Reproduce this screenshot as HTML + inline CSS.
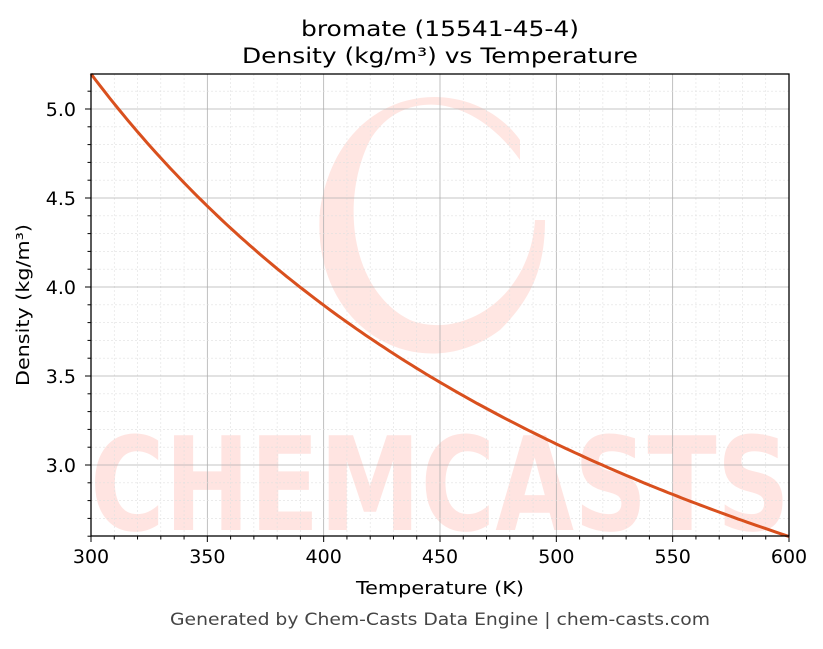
<!DOCTYPE html>
<html><head><meta charset="utf-8"><style>
body{margin:0;background:#fff;width:823px;height:644px;overflow:hidden}
text{font-family:"DejaVu Sans","Liberation Sans",sans-serif}
</style></head><body>
<svg id="s" width="823" height="644" xmlns="http://www.w3.org/2000/svg">
<rect width="823" height="644" fill="#fff"/>
<g id="wm" opacity="0.13" fill="#ff3b1f">
<text x="440" y="530" font-size="130" font-weight="bold" text-anchor="middle" textLength="700" lengthAdjust="spacingAndGlyphs">CHEMCASTS</text>
<path d="M520 140 C470 70 340 80 320 210 C310 330 420 390 500 330 C530 300 545 270 545 220 L535 220 C530 300 460 340 410 320 C350 290 340 200 370 140 C400 90 470 90 520 160 Z"/>
</g>
<g id="grid"></g>
<path id="curve" fill="none" stroke="#d9501e" stroke-width="3"/>
<rect x="91" y="74" width="698" height="462" fill="none" stroke="#000" stroke-width="1.3"/>
<g id="ticks" font-size="19"></g>
<text x="440" y="36" font-size="21" text-anchor="middle" textLength="278" lengthAdjust="spacingAndGlyphs">bromate (15541-45-4)</text>
<text x="440" y="63" font-size="21" text-anchor="middle" textLength="396" lengthAdjust="spacingAndGlyphs">Density (kg/m³) vs Temperature</text>
<text x="440" y="594" font-size="18" text-anchor="middle" textLength="168" lengthAdjust="spacingAndGlyphs">Temperature (K)</text>
<text transform="translate(29,305) rotate(-90)" font-size="18" text-anchor="middle" textLength="162" lengthAdjust="spacingAndGlyphs">Density (kg/m³)</text>
<text x="440" y="625" font-size="17" fill="#444" text-anchor="middle" textLength="540" lengthAdjust="spacingAndGlyphs">Generated by Chem-Casts Data Engine | chem-casts.com</text>
</svg>
<script>
var X=function(t){return 91+(t-300)*698/300},Y=function(v){return 465-(v-3)*178};
var g='',k='';
for(var t=300;t<=600;t+=10){var x=X(t);var maj=t%50==0;
g+='<line x1="'+x+'" y1="74" x2="'+x+'" y2="536" stroke="'+(maj?'#b0b0b0':'#e0e0e0')+'" stroke-width="'+(maj?0.8:0.6)+'"'+(maj?'':' stroke-dasharray="2,2"')+'/>';
k+='<line x1="'+x+'" y1="536" x2="'+x+'" y2="'+(536+(maj?6:3.5))+'" stroke="#000"/>';
if(maj)k+='<text x="'+x+'" y="563" text-anchor="middle">'+t+'</text>';}
for(var i=26;i<=51;i++){var v=i/10,y=Y(v);var maj=i%5==0;
g+='<line x1="91" y1="'+y+'" x2="789" y2="'+y+'" stroke="'+(maj?'#b0b0b0':'#e0e0e0')+'" stroke-width="'+(maj?0.8:0.6)+'"'+(maj?'':' stroke-dasharray="2,2"')+'/>';
k+='<line x1="91" y1="'+y+'" x2="'+(91-(maj?6:3.5))+'" y2="'+y+'" stroke="#000"/>';
if(maj)k+='<text x="76" y="'+(y+7)+'" text-anchor="end">'+v.toFixed(1)+'</text>';}
document.getElementById('grid').innerHTML=g;document.getElementById('ticks').innerHTML=k;
var d='';for(var t=300;t<=600;t+=2){d+=(t==300?'M':'L')+X(t).toFixed(1)+' '+Y(5.197*300/t).toFixed(1)+' ';}
document.getElementById('curve').setAttribute('d',d);
</script>
</body></html>
